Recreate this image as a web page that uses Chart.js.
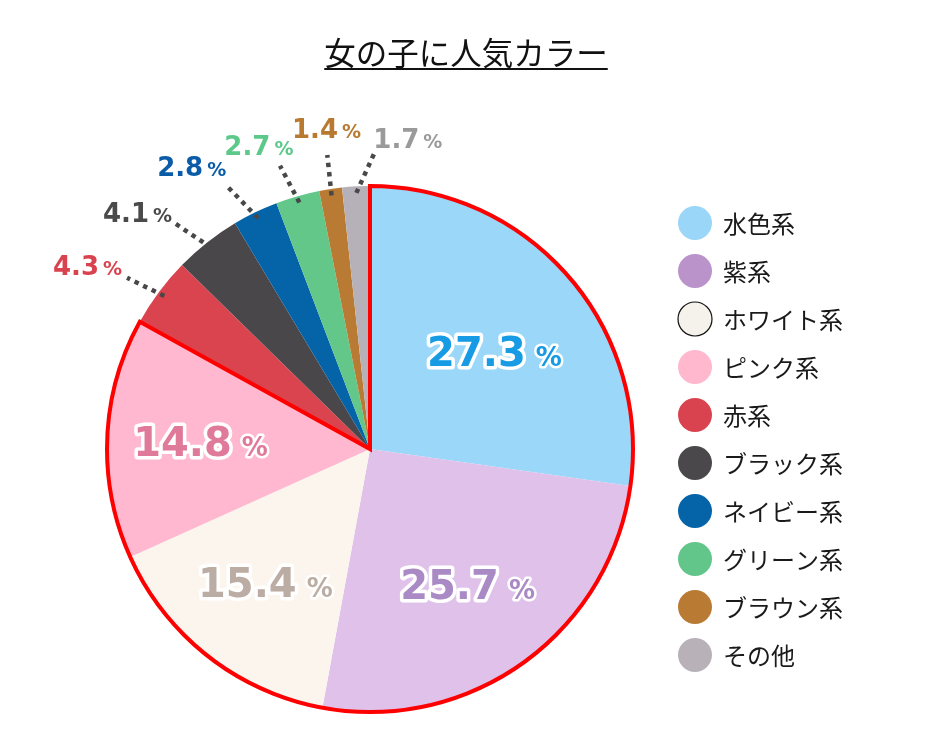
<!DOCTYPE html>
<html>
<head>
<meta charset="utf-8">
<script src="https://cdn.jsdelivr.net/npm/chart.js@4"></script>
<style>
  html, body { margin: 0; background: #fff; }
  #wrap { width: 938px; height: 750px; position: relative; }
</style>
</head>
<body>
<div id="wrap"><canvas id="colorChart"></canvas></div>
<script>
const chartTitle = "女の子に人気カラー";
const colorNames = ["水色系", "紫系", "ホワイト系", "ピンク系", "赤系", "ブラック系", "ネイビー系", "グリーン系", "ブラウン系", "その他"];
const shareValues = [27.3, 25.7, 15.4, 14.8, 4.3, 4.1, 2.8, 2.7, 1.4, 1.7];
const sliceColors = ["#9ad7f8", "#e0c1ea", "#fbf5ee", "#ffb8cf", "#d9444f", "#4a474b", "#0563a8", "#63c78a", "#b97b34", "#b6b1b8"];
const legendColors = ["#99d6f8", "#b993ca", "#f5f2ec", "#ffb8ce", "#d9434f", "#4b484c", "#0563a8", "#62c68a", "#b97b34", "#b8b2b8"];
const labelColors = ["#169be4", "#aa8ac4", "#bcada4", "#e07a9a", "#d9434f", "#4a4a4a", "#0a5ca8", "#5cc98a", "#b87a30", "#9a9a9a"];

// label placement: first four inside the slice, the rest outside with a dotted leader
const insideCount = 4;
const labelDist = [0.6, 0.635, 0.645, 0.645, 1.28, 1.26, 1.27, 1.23, 1.23, 1.19];
const labelShiftDeg = [3, 0, 0, 0, -3.7, -6.3, -6.4, -4.1, 0.9, 10];

const numFont = "'DejaVu Sans', Verdana, sans-serif";
const jpFont = "'Noto Sans CJK JP', sans-serif";

function drawValue(ctx, text, cx, cy, color, big) {
  const numSize = big ? 40 : 26;
  const pctSize = big ? 26 : 19;
  const gap = big ? 10 : 4;
  ctx.font = "bold " + numSize + "px " + numFont;
  const w1 = ctx.measureText(text).width;
  ctx.font = "bold " + pctSize + "px " + numFont;
  const w2 = ctx.measureText("%").width;
  const left = cx - (w1 + gap + w2) / 2;
  const base = cy + numSize * 0.36;
  ctx.textAlign = "left";
  ctx.textBaseline = "alphabetic";
  ctx.lineJoin = "round";
  ctx.font = "bold " + numSize + "px " + numFont;
  if (big) {
    ctx.strokeStyle = "#fff";
    ctx.lineWidth = 7;
    ctx.strokeText(text, left, base);
  }
  ctx.fillStyle = color;
  ctx.fillText(text, left, base);
  ctx.font = "bold " + pctSize + "px " + numFont;
  if (big) {
    ctx.lineWidth = 5;
    ctx.strokeText("%", left + w1 + gap, base);
  }
  ctx.fillText("%", left + w1 + gap, base);
}

const decorPlugin = {
  id: "decor",
  afterDatasetsDraw(chart) {
    const ctx = chart.ctx;
    const arcs = chart.getDatasetMeta(0).data;
    const cx = arcs[0].x, cy = arcs[0].y, R = arcs[0].outerRadius;
    ctx.save();

    // red outline round the top four colours
    ctx.beginPath();
    ctx.moveTo(cx, cy);
    ctx.arc(cx, cy, R, arcs[0].startAngle, arcs[insideCount - 1].endAngle);
    ctx.closePath();
    ctx.strokeStyle = "#ff0000";
    ctx.lineWidth = 4;
    ctx.lineJoin = "miter";
    ctx.stroke();

    arcs.forEach((arc, i) => {
      const mid = (arc.startAngle + arc.endAngle) / 2;
      const shift = labelShiftDeg[i] * Math.PI / 180;
      const a = mid + shift;
      const lx = cx + Math.cos(a) * R * labelDist[i];
      const ly = cy + Math.sin(a) * R * labelDist[i];
      const text = shareValues[i].toFixed(1);
      if (i < insideCount) {
        drawValue(ctx, text, lx, ly, labelColors[i], true);
      } else {
        const a2 = mid + shift * 0.4;
        ctx.beginPath();
        ctx.setLineDash([4.5, 5]);
        ctx.moveTo(cx + Math.cos(mid) * R * 0.975, cy + Math.sin(mid) * R * 0.975);
        ctx.lineTo(cx + Math.cos(a2) * R * 1.13, cy + Math.sin(a2) * R * 1.13);
        ctx.strokeStyle = "#484848";
        ctx.lineWidth = 4.5;
        ctx.lineCap = "butt";
        ctx.stroke();
        ctx.setLineDash([]);
        drawValue(ctx, text, lx, ly, labelColors[i], false);
      }
    });
    ctx.restore();
  },
  afterDraw(chart) {
    const ctx = chart.ctx;
    ctx.save();
    // title with underline
    ctx.font = "31.5px " + jpFont;
    ctx.fillStyle = "#111";
    ctx.textAlign = "center";
    ctx.textBaseline = "alphabetic";
    ctx.fillText(chartTitle, 466, 65);
    const tw = ctx.measureText(chartTitle).width;
    ctx.fillRect(466 - tw / 2, 68, tw, 2);

    // legend
    ctx.textAlign = "left";
    ctx.textBaseline = "middle";
    ctx.font = "24px " + jpFont;
    colorNames.forEach((name, i) => {
      const y = 223 + i * 48;
      ctx.beginPath();
      ctx.arc(695, y, 17, 0, Math.PI * 2);
      ctx.fillStyle = legendColors[i];
      ctx.fill();
      if (i === 2) {
        ctx.strokeStyle = "#111";
        ctx.lineWidth = 1.2;
        ctx.stroke();
      }
      ctx.fillStyle = "#1a1a1a";
      ctx.fillText(name, 723, y + 1);
    });
    ctx.restore();
  }
};

new Chart(document.getElementById("colorChart"), {
  type: "pie",
  data: {
    labels: colorNames,
    datasets: [{
      data: shareValues,
      backgroundColor: sliceColors,
      borderWidth: 0,
      hoverOffset: 0,
      offset: 0
    }]
  },
  options: {
    responsive: true,
    maintainAspectRatio: false,
    animation: false,
    layout: { padding: { left: 107, right: 305, top: 186, bottom: 38 } },
    plugins: {
      legend: { display: false },
      title: { display: false },
      tooltip: { enabled: false }
    }
  },
  plugins: [decorPlugin]
});
</script>
</body>
</html>
